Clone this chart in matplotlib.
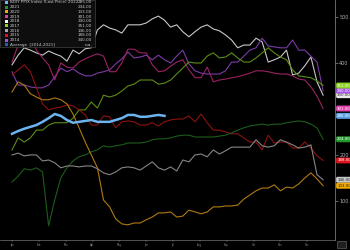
import numpy as np
import matplotlib
matplotlib.use("Agg")
import matplotlib.pyplot as plt
from matplotlib.patches import Rectangle

# weekly index values (right axis units)
y2018 = [396, 417, 433, 428, 422, 417, 426, 420, 415, 404, 428, 420, 431, 433, 472, 483, 476, 472,
         465, 483, 483, 483, 487, 496, 502, 493, 478, 483, 468, 457, 468, 478, 483, 474, 470, 461,
         450, 433, 439, 439, 454, 446, 402, 407, 413, 428, 374, 378, 394, 413, 359, 330]
y2014 = [381, 352, 352, 348, 346, 346, 352, 370, 389, 381, 387, 378, 372, 372, 378, 381, 385, 398,
         409, 424, 411, 413, 417, 407, 417, 407, 400, 415, 428, 398, 383, 378, 376, 376, 376, 383,
         402, 402, 415, 428, 433, 454, 437, 435, 433, 433, 450, 428, 428, 415, 402, 340]
y2019 = [402, 439, 461, 459, 428, 411, 396, 363, 400, 391, 389, 402, 409, 415, 420, 415, 381, 381,
         400, 430, 430, 422, 422, 396, 381, 383, 393, 402, 407, 385, 368, 368, 391, 359, 363, 365,
         368, 370, 374, 378, 383, 383, 381, 378, 376, 376, 372, 365, 363, 348, 328, 301]
y2017 = [211, 237, 228, 237, 254, 254, 265, 270, 270, 270, 280, 298, 298, 315, 302, 330, 326, 330,
         339, 350, 354, 363, 363, 363, 354, 356, 363, 376, 389, 402, 400, 400, 415, 422, 411, 413,
         422, 411, 402, 402, 411, 422, 433, 422, 413, 407, 385, 372, 370, 368, 361, 351]
y2015 = [374, 385, 396, 381, 346, 311, 298, 302, 304, 309, 307, 298, 287, 265, 265, 285, 283, 259,
         272, 274, 272, 265, 265, 270, 263, 272, 276, 278, 278, 285, 272, 289, 270, 254, 254, 250,
         246, 246, 237, 228, 228, 211, 243, 226, 228, 228, 215, 215, 228, 215, 198, 188]
y2022 = [246, 252, 257, 261, 265, 272, 280, 289, 285, 276, 270, 272, 274, 276, 272, 272, 272, 276,
         280, 287, 287, 283, 283, 285, 287, 285]
y2021 = [141, 154, 170, 167, 172, 163, 46, 102, 150, 172, 187, 196, 200, 207, 211, 220, 217, 220,
         222, 226, 226, 226, 228, 233, 235, 235, 237, 241, 243, 243, 239, 239, 239, 239, 241, 243,
         248, 254, 259, 263, 265, 267, 265, 267, 267, 270, 272, 274, 272, 267, 259, 234]
y2016 = [200, 204, 198, 200, 200, 187, 189, 183, 172, 176, 176, 174, 176, 176, 170, 161, 157, 163,
         172, 174, 172, 167, 176, 185, 172, 167, 174, 165, 189, 185, 200, 202, 196, 211, 202, 209,
         217, 217, 217, 217, 233, 220, 217, 220, 233, 228, 222, 215, 217, 222, 157, 146]
y2020 = [337, 359, 352, 333, 326, 320, 320, 324, 320, 311, 289, 259, 228, 200, 172, 102, 87, 61,
         50, 48, 52, 52, 59, 65, 74, 74, 76, 65, 67, 80, 76, 72, 76, 87, 87, 89,
         89, 91, 104, 113, 122, 128, 128, 135, 122, 130, 128, 137, 150, 161, 148, 133]

legend_names = ["BDIY PPIX Index (Last Price) 2022", "2021", "2020", "2019", "2018",
                "2017", "2016", "2015", "2014", "Average  [2014-2021]"]
legend_values = ["285.00", "234.00", "133.00", "301.00", "330.00",
                 "351.00", "146.00", "188.00", "340.00", "n.a."]
legend_colors = ["#6fb8f2", "#1f9a2a", "#f2a900", "#e040a8", "#ffffff",
                 "#8ad21e", "#a8a8a8", "#e0141e", "#a652e8", "#1f5fc0"]
months = ["Jan", "Feb", "Mar", "Apr", "May", "Jun", "Jul", "Aug", "Sep", "Oct", "Nov", "Dec"]

plt.rcParams["font.family"] = "DejaVu Sans"
fig = plt.figure(figsize=(3.5, 2.5), dpi=100, facecolor="black")
ax = fig.add_axes([0, 0.04, 335 / 350, 0.96])
ax.set_facecolor("black")

# (data, line colour, label box colour, label text colour, legend text, width)
series = [
    (y2018, "#c8c8c8", "#e8e8e8", "#222222", "330.00", 0.8),
    (y2014, "#7a3ca8", "#a652e8", "#ffffff", "340.00", 0.8),
    (y2019, "#9a2262", "#e040a8", "#ffffff", "301.00", 0.8),
    (y2017, "#5e8c12", "#8ad21e", "#ffffff", "351.00", 0.8),
    (y2015, "#8c1212", "#e0141e", "#ffffff", "188.00", 0.8),
    (y2021, "#1c5c1c", "#1f9a2a", "#ffffff", "234.00", 0.8),
    (y2016, "#858585", "#c8c8c8", "#222222", "146.00", 0.8),
    (y2020, "#b07a12", "#f2a900", "#222222", "133.00", 0.8),
    (y2022, "#6cb4f0", "#5aa0e0", "#ffffff", "285.00", 1.8),
]
for vals, lc, bc, tc, txt, lw in series:
    w = np.arange(1, len(vals) + 1)
    ax.plot(w, vals, color=lc, lw=lw, zorder=3 if lw > 1 else 2)
    ax.annotate(txt, xy=(1.0, vals[-1]), xycoords=("axes fraction", "data"),
                xytext=(1.5, 0), textcoords="offset points", fontsize=2.8, color=tc,
                va="center", ha="left", annotation_clip=False, zorder=5,
                bbox=dict(boxstyle="round,pad=0.25,rounding_size=0.4", fc=bc, ec="none"))

ax.set_xlim(-0.97, 53.95)
ax.set_ylim(15, 537)
ax.yaxis.tick_right()
# the 300 label sits under the last-value tags, so only its tick mark shows
ax.set_yticks([100, 200, 400, 500])
ax.set_yticks([300], minor=True)
ax.tick_params(axis="y", which="both", colors="#b0b0b0", labelsize=3.5, length=2, width=0.4, pad=1)
ax.set_xticks(np.arange(1, 53, 4.4))
ax.set_xticklabels(months, fontsize=1.8)
ax.tick_params(axis="x", colors="#909090", length=1.5, width=0.3, pad=0.5)
for s in ["top", "left"]:
    ax.spines[s].set_visible(False)
ax.spines["right"].set_color("#909090")
ax.spines["right"].set_linewidth(0.5)
ax.spines["bottom"].set_color("#909090")
ax.spines["bottom"].set_linewidth(0.4)

# legend panel drawn by hand, top left
W, H = 350.0, 250.0
fig.add_artist(Rectangle((0, 1 - 47 / H), 95 / W, 47 / H, transform=fig.transFigure,
                         fc="#0e0e0e", ec="#505050", lw=0.4, zorder=10))
for k, (name, val, col) in enumerate(zip(legend_names, legend_values, legend_colors)):
    yc = 1 - (2.4 + 4.7 * k) / H
    fig.add_artist(Rectangle((4.5 / W, yc - 1.5 / H), 3 / W, 3 / H, transform=fig.transFigure,
                             fc=col, ec="none", zorder=11))
    fig.text(10 / W, yc, name, color="#c8c8c8", fontsize=3, va="center", ha="left", zorder=12)
    fig.text(92 / W, yc, val, color="#c8c8c8", fontsize=3, va="center", ha="right", zorder=12)

fig.add_artist(Rectangle((337 / W, 2 / H), 9 / W, 7 / H, transform=fig.transFigure,
                         fc="#202020", ec="#707070", lw=0.4, zorder=10))

fig.savefig("out.png", dpi=100, facecolor="black")
